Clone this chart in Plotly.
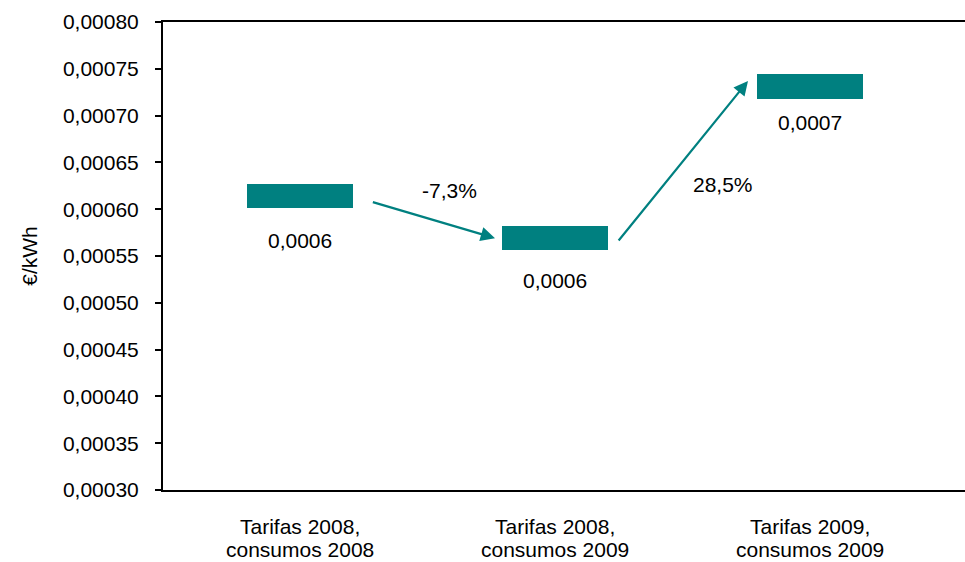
import plotly.graph_objects as go

# Tariff scenarios and average unit cost (€/kWh)
categories = [("Tarifas 2008,", "consumos 2008"),
              ("Tarifas 2008,", "consumos 2009"),
              ("Tarifas 2009,", "consumos 2009")]
values = [0.000614, 0.000569, 0.000731]
changes = [-7.3, 28.5]          # % change between consecutive scenarios
y_ticks = [0.0003 + 0.00005 * i for i in range(11)]

TEAL = "#008080"
FONT = "Liberation Sans, Arial, sans-serif"
FS = 21
thick = 0.000026                # visual thickness of each level bar

x_pos = list(range(len(categories)))

fig = go.Figure()
fig.add_trace(go.Bar(
    x=x_pos,
    y=[thick] * len(values),
    base=[v - thick / 2 for v in values],
    width=0.415,
    marker=dict(color=TEAL, line=dict(width=0)),
    hoverinfo="skip",
    showlegend=False,
))

def fmt(v, d):
    return f"{v:.{d}f}".replace(".", ",")

txt_font = dict(size=FS, color="black", family=FONT)
annotations = []
# value labels below each bar
for x, v, ys in zip(x_pos, values, [-44, -42, -36]):
    annotations.append(dict(x=x, y=v, xref="x", yref="y", text=fmt(v, 4),
                            showarrow=False, yshift=ys, yanchor="middle",
                            font=txt_font))

# arrows between levels with the % change
arrow_geom = [
    dict(x0=0.28, dy0=-0.000006, x1=0.765, dy1=0.0, lx=0.588, ly=0.0006205),
    dict(x0=1.245, dy0=-0.000004, x1=1.757, dy1=0.000006, lx=1.659, ly=0.000626),
]
for i, (g, c) in enumerate(zip(arrow_geom, changes)):
    annotations.append(dict(
        x=g["x1"], y=values[i + 1] + g["dy1"], xref="x", yref="y",
        ax=g["x0"], ay=values[i] + g["dy0"], axref="x", ayref="y",
        text="", showarrow=True, arrowhead=2, arrowsize=1.3, arrowwidth=2.2,
        arrowcolor=TEAL, standoff=0, startstandoff=0))
    annotations.append(dict(x=g["lx"], y=g["ly"], xref="x", yref="y",
                            text=fmt(c, 1) + "%", showarrow=False,
                            yanchor="middle", font=txt_font))

# two-line category labels under the axis
for x, (l1, l2) in zip(x_pos, categories):
    for line, ys in ((l1, -36), (l2, -59)):
        annotations.append(dict(x=x, y=0, xref="x", yref="paper", text=line,
                                showarrow=False, yshift=ys, yanchor="middle",
                                font=txt_font))

fig.update_layout(
    width=965, height=562,
    margin=dict(l=163, r=0, t=22, b=72),
    paper_bgcolor="white", plot_bgcolor="white",
    separators=",.",
    font=dict(family=FONT, size=FS, color="black"),
    bargap=0,
    annotations=annotations,
    xaxis=dict(
        range=[-0.537, 2.608],
        showticklabels=False,
        showline=True, linecolor="black", linewidth=2, mirror=True,
        ticks="", showgrid=False, zeroline=False,
    ),
    yaxis=dict(
        range=[0.0003, 0.0008],
        tickmode="array", tickvals=y_ticks, tickformat=".5f",
        showline=True, linecolor="black", linewidth=2,
        ticks="outside", ticklen=6, tickwidth=2, tickcolor="black",
        ticklabelstandoff=12,
        showgrid=False, zeroline=False,
        tickfont=txt_font,
        title=dict(text="€/kWh", standoff=20, font=txt_font),
    ),
)

fig.write_html("out.html")
